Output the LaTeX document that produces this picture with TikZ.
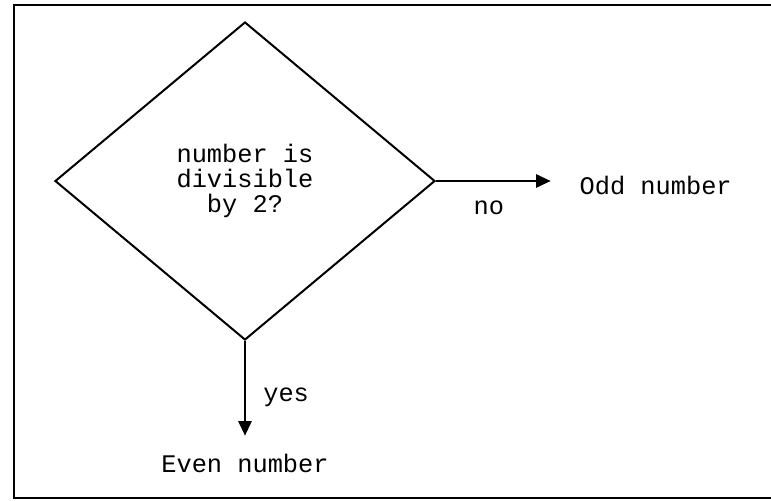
\documentclass[tikz,border=0pt]{standalone}
\usepackage{fontspec}
\setmonofont{Liberation Mono}
\usetikzlibrary{arrows.meta, positioning, shapes.geometric}
\tikzstyle{flowchart}=[x=0.75pt, y=-0.75pt, line width=1.5pt, >={Triangle[length=11pt,width=10pt]}, font=\ttfamily\fontsize{19}{18.5}\selectfont]
\tikzstyle{decision}=[diamond, draw, align=center, minimum width=285pt, minimum height=238.5pt, inner sep=0pt]
\tikzstyle{result}=[inner sep=0pt]

\begin{document}
\begin{tikzpicture}[flowchart]
  \useasboundingbox (0,0) rectangle (771,500);
  \clip (0,0) rectangle (771,500);
  \draw (14,5) rectangle (800,498);
  \node[decision] (test) at (245,181) {number is\\divisible\\by 2?};
  \node[result] (odd) [right=107pt of test, yshift=-3pt] {Odd number};
  \node[result] (even) [below=84pt of test] {Even number};
  \path[->] (test.east) edge[shorten >=21pt] node[result, below=14pt, pos=.37] {no} (test.east -| odd.west);
  \path[->] (test) edge[shorten >=13pt] node[result, right=13pt] {yes} (even);
\end{tikzpicture}
\end{document}
